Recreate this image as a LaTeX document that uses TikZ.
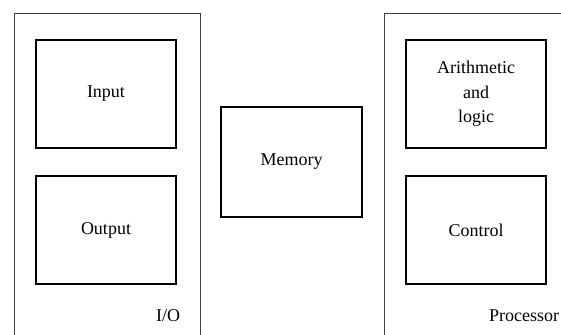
\documentclass[tikz,border=0pt]{standalone}
\usepackage{fontspec}
\setmainfont{Liberation Serif}
\begin{document}
\begin{tikzpicture}[x=1pt,y=-1pt,
  unitbox/.style={draw, line width=2.3pt, minimum width=140pt, minimum height=108pt, inner sep=0pt, font=\fontsize{18}{24.5}\selectfont, align=center},
  groupline/.style={draw, line width=0.9pt, black!75},
  grouplabel/.style={font=\fontsize{18}{20}\selectfont, inner sep=0pt}]
\useasboundingbox (0,0) rectangle (561,334);
% outer groups
\draw[groupline] (14,340) -- (14,13) -- (200,13) -- (200,340);
\draw[groupline] (384,340) -- (384,13) -- (570,13);
% units
\node[unitbox] (input) at (106,94) {Input};
\node[unitbox] (output) at (106,230) {Output};
\node[unitbox, minimum width=141pt, minimum height=110pt] (memory) at (291.5,162) {Memory};
\node[unitbox] (alu) at (476,94) {Arithmetic\\and\\logic};
\node[unitbox] (control) at (476,230) {Control};
% labels
\node[grouplabel] (io) at (168,316) {I/O};
\node[grouplabel] (proc) at (524,316) {Processor};
\end{tikzpicture}
\end{document}
